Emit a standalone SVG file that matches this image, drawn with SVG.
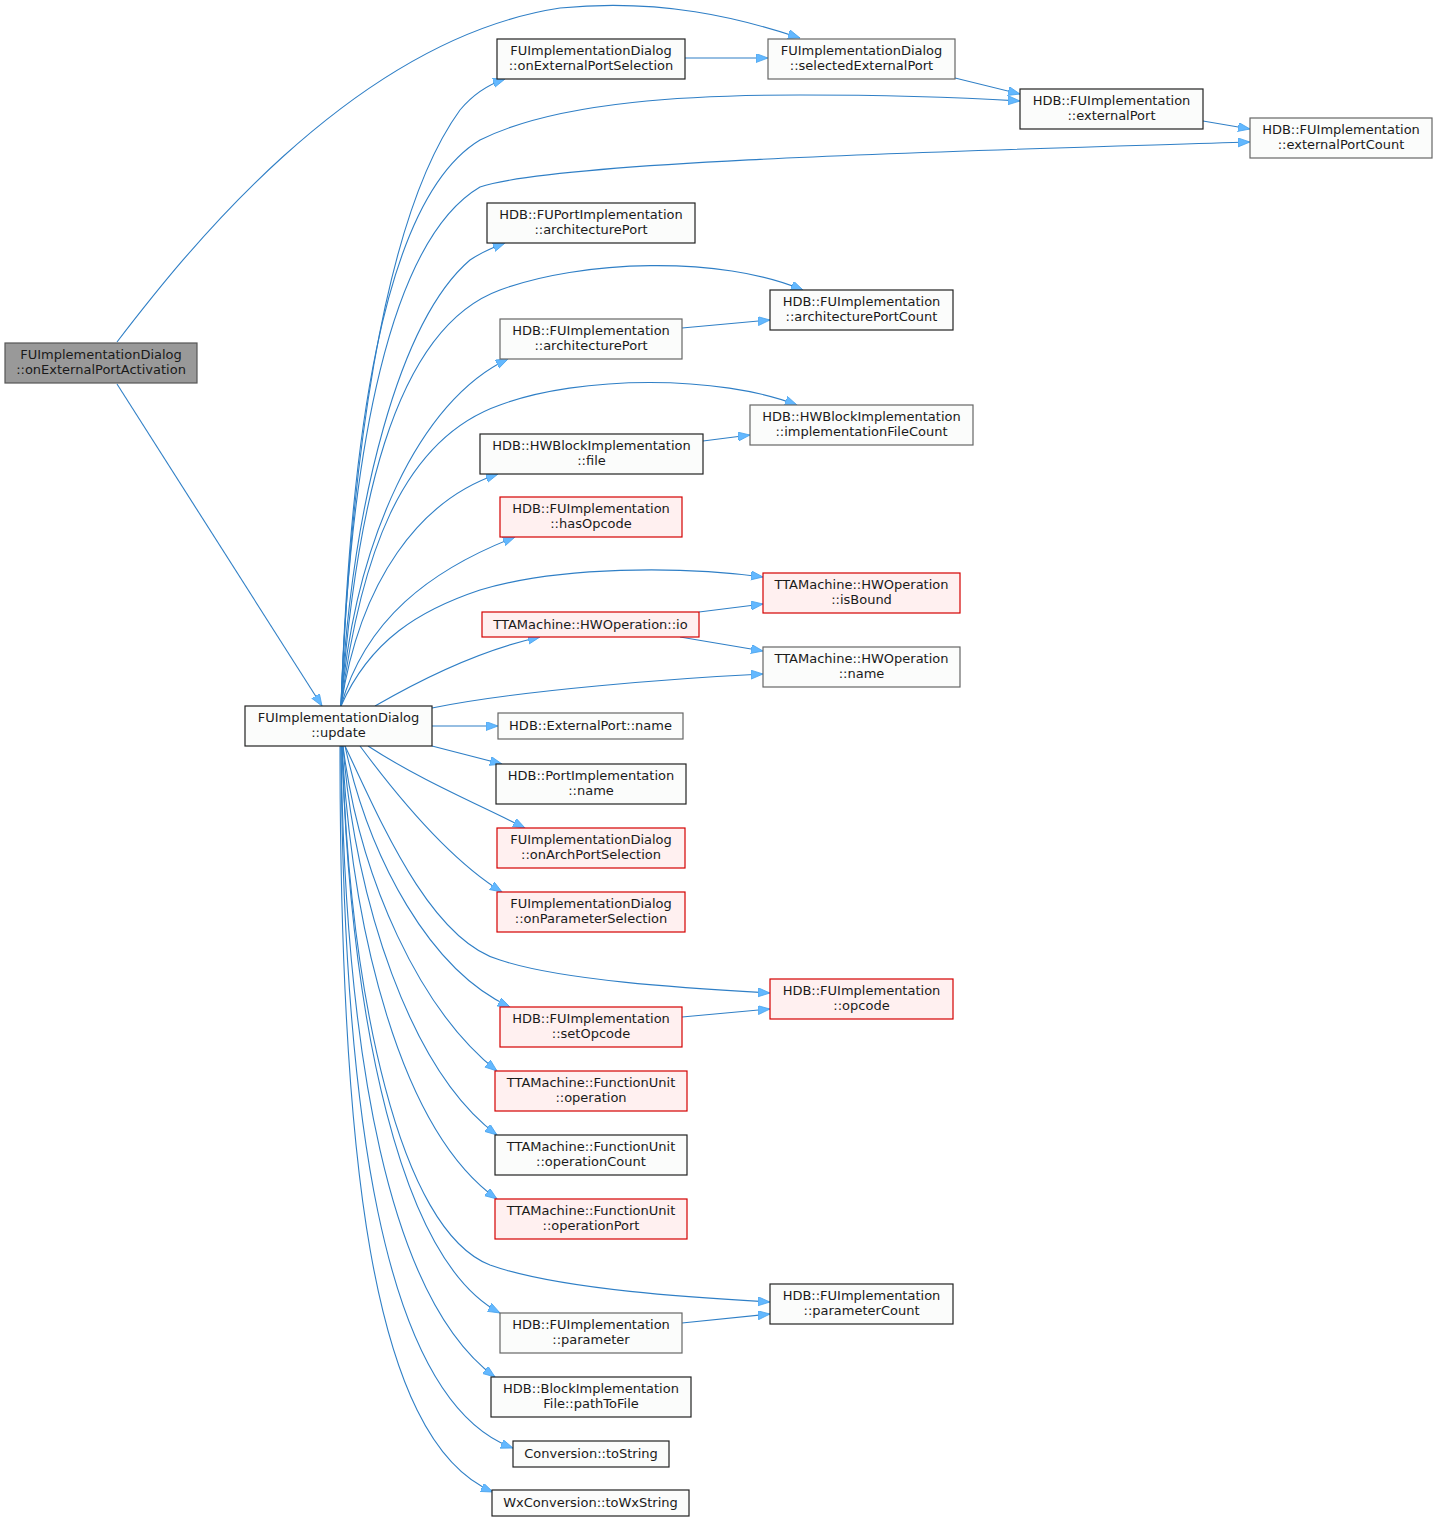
<svg xmlns="http://www.w3.org/2000/svg" width="1437" height="1522" viewBox="0 0 1437 1522">
<style>
.n rect{fill:#fbfcfb;stroke:#666666;stroke-width:1.2}
.n.d rect{stroke:#222222}
.n.r rect{fill:#fff0f0;stroke:#d40000}
.n.root rect{fill:#999999;stroke:#555555}
text{font-family:"DejaVu Sans","Liberation Sans",sans-serif;font-size:13px;fill:#1a1a1a;text-anchor:middle}
#edges path{fill:none;stroke:#2f7fc6;stroke-width:1.1}
</style>
<defs>
<marker id="a" markerUnits="userSpaceOnUse" markerWidth="13" markerHeight="10" refX="12" refY="4.5" orient="auto">
<path d="M0,0 L12,4.5 L0,9 z" fill="#63b8ff" stroke="#4aa3ec" stroke-width="0.8"/>
</marker>
</defs>
<rect width="1437" height="1522" fill="#ffffff"/>
<g id="edges">
<path marker-end="url(#a)" d="M117,342 C180,260 350,40 560,8 C660,-2 740,18 800,38"/>
<path marker-end="url(#a)" d="M117,384 L322,706"/>
<path marker-end="url(#a)" d="M341,706 C350,480 380,220 460,110 C475,92 490,84 505,79"/>
<path marker-end="url(#a)" d="M685,58 L768,58"/>
<path marker-end="url(#a)" d="M955,78 L1020,94"/>
<path marker-end="url(#a)" d="M341,706 C350,450 380,200 480,140 C560,100 700,95 800,95 C900,95 970,98 1020,101"/>
<path marker-end="url(#a)" d="M1203,121 L1250,129"/>
<path marker-end="url(#a)" d="M341,706 C350,450 390,240 480,187 C560,160 1000,150 1250,142"/>
<path marker-end="url(#a)" d="M341,706 C352,500 400,320 470,260 C482,252 494,247 505,243"/>
<path marker-end="url(#a)" d="M341,706 C355,520 390,330 500,290 C580,260 720,255 803,290"/>
<path marker-end="url(#a)" d="M341,706 C355,540 420,400 508,359"/>
<path marker-end="url(#a)" d="M682,328 L770,320"/>
<path marker-end="url(#a)" d="M341,706 C360,560 400,440 500,405 C580,375 720,375 797,405"/>
<path marker-end="url(#a)" d="M341,706 C360,580 420,500 498,474"/>
<path marker-end="url(#a)" d="M703,441 L750,435"/>
<path marker-end="url(#a)" d="M341,706 C365,620 430,570 515,537"/>
<path marker-end="url(#a)" d="M341,706 C370,640 420,610 480,590 C560,566 680,566 763,577"/>
<path marker-end="url(#a)" d="M699,612 L763,604"/>
<path marker-end="url(#a)" d="M375,706 C420,680 480,650 540,637"/>
<path marker-end="url(#a)" d="M680,637 L763,651"/>
<path marker-end="url(#a)" d="M432,708 C520,690 680,678 763,674"/>
<path marker-end="url(#a)" d="M432,726 L498,726"/>
<path marker-end="url(#a)" d="M432,746 L502,764"/>
<path marker-end="url(#a)" d="M368,746 C420,780 480,805 525,828"/>
<path marker-end="url(#a)" d="M360,746 C400,800 450,860 502,892"/>
<path marker-end="url(#a)" d="M345,746 C380,820 430,940 500,960 C560,980 680,988 770,993"/>
<path marker-end="url(#a)" d="M345,746 C370,860 430,970 510,1007"/>
<path marker-end="url(#a)" d="M682,1017 L770,1009"/>
<path marker-end="url(#a)" d="M343,746 C360,880 420,1010 497,1071"/>
<path marker-end="url(#a)" d="M343,746 C355,900 410,1070 497,1135"/>
<path marker-end="url(#a)" d="M342,746 C352,930 400,1130 497,1199"/>
<path marker-end="url(#a)" d="M342,746 C350,1000 400,1230 490,1265 C560,1290 700,1298 770,1302"/>
<path marker-end="url(#a)" d="M342,746 C350,1020 400,1260 500,1313"/>
<path marker-end="url(#a)" d="M682,1323 L770,1314"/>
<path marker-end="url(#a)" d="M341,746 C345,1060 390,1300 495,1377"/>
<path marker-end="url(#a)" d="M341,746 C343,1100 380,1400 513,1448"/>
<path marker-end="url(#a)" d="M340,746 C340,1150 370,1440 493,1492"/>
</g>
<g id="n1" class="n root"><rect x="5" y="343" width="192" height="40"/><text x="101" y="359">FUImplementationDialog</text><text x="101" y="374">::onExternalPortActivation</text></g>
<g id="n2" class="n d"><rect x="245" y="706" width="187" height="40"/><text x="338.5" y="722">FUImplementationDialog</text><text x="338.5" y="737">::update</text></g>
<g id="n3" class="n d"><rect x="497" y="39" width="188" height="40"/><text x="591" y="55">FUImplementationDialog</text><text x="591" y="70">::onExternalPortSelection</text></g>
<g id="n4" class="n"><rect x="768" y="39" width="187" height="40"/><text x="861.5" y="55">FUImplementationDialog</text><text x="861.5" y="70">::selectedExternalPort</text></g>
<g id="n5" class="n d"><rect x="1020" y="89" width="183" height="40"/><text x="1111.5" y="105">HDB::FUImplementation</text><text x="1111.5" y="120">::externalPort</text></g>
<g id="n6" class="n"><rect x="1250" y="118" width="182" height="40"/><text x="1341" y="134">HDB::FUImplementation</text><text x="1341" y="149">::externalPortCount</text></g>
<g id="n7" class="n d"><rect x="487" y="203" width="208" height="40"/><text x="591" y="219">HDB::FUPortImplementation</text><text x="591" y="234">::architecturePort</text></g>
<g id="n8" class="n d"><rect x="770" y="290" width="183" height="40"/><text x="861.5" y="306">HDB::FUImplementation</text><text x="861.5" y="321">::architecturePortCount</text></g>
<g id="n9" class="n"><rect x="500" y="319" width="182" height="40"/><text x="591" y="335">HDB::FUImplementation</text><text x="591" y="350">::architecturePort</text></g>
<g id="n10" class="n"><rect x="750" y="405" width="223" height="40"/><text x="861.5" y="421">HDB::HWBlockImplementation</text><text x="861.5" y="436">::implementationFileCount</text></g>
<g id="n11" class="n d"><rect x="480" y="434" width="223" height="40"/><text x="591.5" y="450">HDB::HWBlockImplementation</text><text x="591.5" y="465">::file</text></g>
<g id="n12" class="n r"><rect x="500" y="497" width="182" height="40"/><text x="591" y="513">HDB::FUImplementation</text><text x="591" y="528">::hasOpcode</text></g>
<g id="n13" class="n r"><rect x="763" y="573" width="197" height="40"/><text x="861.5" y="589">TTAMachine::HWOperation</text><text x="861.5" y="604">::isBound</text></g>
<g id="n14" class="n r"><rect x="482" y="612" width="217" height="25"/><text x="590.5" y="629">TTAMachine::HWOperation::io</text></g>
<g id="n15" class="n"><rect x="763" y="647" width="197" height="40"/><text x="861.5" y="663">TTAMachine::HWOperation</text><text x="861.5" y="678">::name</text></g>
<g id="n16" class="n"><rect x="498" y="713" width="185" height="26"/><text x="590.5" y="730">HDB::ExternalPort::name</text></g>
<g id="n17" class="n d"><rect x="496" y="764" width="190" height="40"/><text x="591" y="780">HDB::PortImplementation</text><text x="591" y="795">::name</text></g>
<g id="n18" class="n r"><rect x="497" y="828" width="188" height="40"/><text x="591" y="844">FUImplementationDialog</text><text x="591" y="859">::onArchPortSelection</text></g>
<g id="n19" class="n r"><rect x="497" y="892" width="188" height="40"/><text x="591" y="908">FUImplementationDialog</text><text x="591" y="923">::onParameterSelection</text></g>
<g id="n20" class="n r"><rect x="770" y="979" width="183" height="40"/><text x="861.5" y="995">HDB::FUImplementation</text><text x="861.5" y="1010">::opcode</text></g>
<g id="n21" class="n r"><rect x="500" y="1007" width="182" height="40"/><text x="591" y="1023">HDB::FUImplementation</text><text x="591" y="1038">::setOpcode</text></g>
<g id="n22" class="n r"><rect x="495" y="1071" width="192" height="40"/><text x="591" y="1087">TTAMachine::FunctionUnit</text><text x="591" y="1102">::operation</text></g>
<g id="n23" class="n d"><rect x="495" y="1135" width="192" height="40"/><text x="591" y="1151">TTAMachine::FunctionUnit</text><text x="591" y="1166">::operationCount</text></g>
<g id="n24" class="n r"><rect x="495" y="1199" width="192" height="40"/><text x="591" y="1215">TTAMachine::FunctionUnit</text><text x="591" y="1230">::operationPort</text></g>
<g id="n25" class="n d"><rect x="770" y="1284" width="183" height="40"/><text x="861.5" y="1300">HDB::FUImplementation</text><text x="861.5" y="1315">::parameterCount</text></g>
<g id="n26" class="n"><rect x="500" y="1313" width="182" height="40"/><text x="591" y="1329">HDB::FUImplementation</text><text x="591" y="1344">::parameter</text></g>
<g id="n27" class="n d"><rect x="491" y="1377" width="200" height="40"/><text x="591" y="1393">HDB::BlockImplementation</text><text x="591" y="1408">File::pathToFile</text></g>
<g id="n28" class="n d"><rect x="513" y="1441" width="156" height="26"/><text x="591" y="1458">Conversion::toString</text></g>
<g id="n29" class="n d"><rect x="492" y="1490" width="197" height="26"/><text x="590.5" y="1507">WxConversion::toWxString</text></g>
</svg>
